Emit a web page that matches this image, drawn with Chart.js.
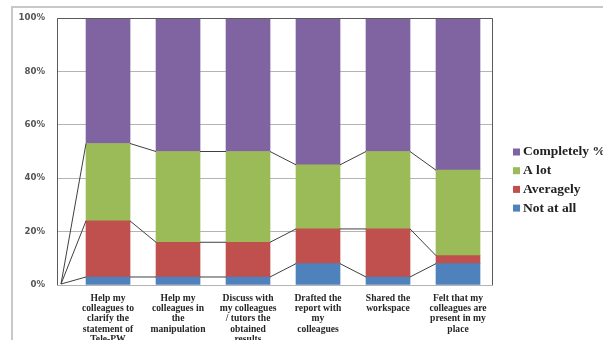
<!DOCTYPE html>
<html>
<head>
<meta charset="utf-8">
<script src="https://cdn.jsdelivr.net/npm/chart.js@4"></script>
<style>
  html, body { margin: 0; padding: 0; background: #ffffff; }
  #wrap { width: 603px; height: 340px; position: relative; }
</style>
</head>
<body>
<div id="wrap"><canvas id="c" width="603" height="340"></canvas></div>
<script>
// ---- data ----
const categories = [
  ["Help my", "colleagues to", "clarify the", "statement of", "Tele-PW"],
  ["Help my", "colleagues in", "the", "manipulation"],
  ["Discuss with", "my colleagues", "/ tutors the", "obtained", "results"],
  ["Drafted the", "report with", "my", "colleagues"],
  ["Shared the", "workspace"],
  ["Felt that my", "colleagues are", "present in my", "place"]
];
const seriesNames = ["Not at all", "Averagely", "A lot", "Completely %"];
const notAtAll   = [3, 3, 3, 8, 3, 8];
const averagely  = [21, 13, 13, 13, 18, 3];
const aLot       = [29, 34, 34, 24, 29, 32];
const completely = [47, 50, 50, 55, 50, 57];
const yTickValues = [0, 20, 40, 60, 80, 100];

const seriesValues = [notAtAll, averagely, aLot, completely];
const seriesColors = ["#4f81bd", "#c0504d", "#9bbb59", "#8064a2"];

const toPoints = arr => arr.map((v, i) => ({ x: i + 1, y: v }));

const bgAndFrame = {
  id: 'bgAndFrame',
  beforeDraw(chart) {
    const ctx = chart.ctx;
    ctx.save();
    ctx.fillStyle = '#ffffff';
    ctx.fillRect(0, 0, chart.width, chart.height);
    ctx.strokeStyle = '#c8c8c8';
    ctx.lineWidth = 2;
    ctx.beginPath();
    ctx.moveTo(12, chart.height + 2);
    ctx.lineTo(12, 7);
    ctx.lineTo(chart.width + 2, 7);
    ctx.stroke();
    ctx.restore();
  }
};

const seriesLines = {
  id: 'seriesLines',
  afterDatasetsDraw(chart) {
    const ctx = chart.ctx;
    const a = chart.chartArea;
    ctx.save();
    ctx.strokeStyle = '#5a5a5a';
    ctx.lineWidth = 1;
    ctx.beginPath();
    ctx.moveTo(a.left + 0.5, a.bottom);
    ctx.lineTo(a.left + 0.5, a.top + 0.5);
    ctx.lineTo(a.right - 0.5, a.top + 0.5);
    ctx.lineTo(a.right - 0.5, a.bottom);
    ctx.stroke();
    ctx.strokeStyle = '#404040';
    const ox = a.left + 4;
    const oy = chart.scales.y.getPixelForValue(0) - 1;
    for (let d = 0; d < 3; d++) {
      const els = chart.getDatasetMeta(d).data;
      ctx.beginPath();
      ctx.moveTo(ox, oy);
      ctx.lineTo(els[0].x - els[0].width / 2, els[0].y);
      for (let i = 0; i < els.length - 1; i++) {
        ctx.moveTo(els[i].x + els[i].width / 2, els[i].y);
        ctx.lineTo(els[i + 1].x - els[i + 1].width / 2, els[i + 1].y);
      }
      ctx.stroke();
    }
    ctx.restore();
  }
};

const sideLegend = {
  id: 'sideLegend',
  afterDraw(chart) {
    const ctx = chart.ctx;
    const a = chart.chartArea;
    ctx.save();
    ctx.font = 'bold 13.5px "Liberation Serif"';
    ctx.textBaseline = 'middle';
    const x0 = a.right + 20;
    for (let k = 0; k < seriesNames.length; k++) {
      const idx = seriesNames.length - 1 - k;
      const yc = 152 + k * 18.7;
      ctx.fillStyle = seriesColors[idx];
      ctx.fillRect(x0, yc - 3.5, 7, 7);
      ctx.fillStyle = '#222222';
      ctx.fillText(seriesNames[idx], x0 + 10, yc);
    }
    ctx.restore();
  }
};

new Chart(document.getElementById('c'), {
  type: 'bar',
  data: {
    datasets: seriesValues.map((vals, i) => ({
      label: seriesNames[i],
      data: toPoints(vals),
      backgroundColor: seriesColors[i],
      borderWidth: 0,
      barThickness: 44
    }))
  },
  options: {
    responsive: false,
    animation: false,
    layout: { padding: { left: 0, right: 110, top: 18, bottom: 0 } },
    plugins: { legend: { display: false }, tooltip: { enabled: false } },
    scales: {
      x: {
        type: 'linear',
        stacked: true,
        offset: false,
        min: 0.271,
        max: 6.5,
        grid: { display: false, drawTicks: false, offset: false },
        border: { display: false },
        afterBuildTicks(scale) {
          scale.ticks = categories.map((c, i) => ({ value: i + 1 }));
        },
        afterFit(scale) { scale.height = 55; },
        ticks: {
          autoSkip: false,
          maxRotation: 0,
          padding: 8,
          color: '#262626',
          font: { family: '"Liberation Serif"', size: 9.6, weight: 'bold', lineHeight: 1.08 },
          callback: (v) => categories[Math.round(v) - 1] || ''
        }
      },
      y: {
        stacked: true,
        min: 0,
        max: 100,
        afterBuildTicks(scale) {
          scale.ticks = yTickValues.map(v => ({ value: v }));
        },
        afterFit(scale) { scale.width = 57; },
        grid: { color: '#b4b4b4', drawTicks: false, lineWidth: 1 },
        border: { display: false },
        ticks: {
          padding: 12,
          color: '#555555',
          font: { family: '"DejaVu Sans"', size: 8.6, weight: 'bold' },
          callback: v => v + '%'
        }
      }
    }
  },
  plugins: [bgAndFrame, seriesLines, sideLegend]
});
</script>
</body>
</html>
